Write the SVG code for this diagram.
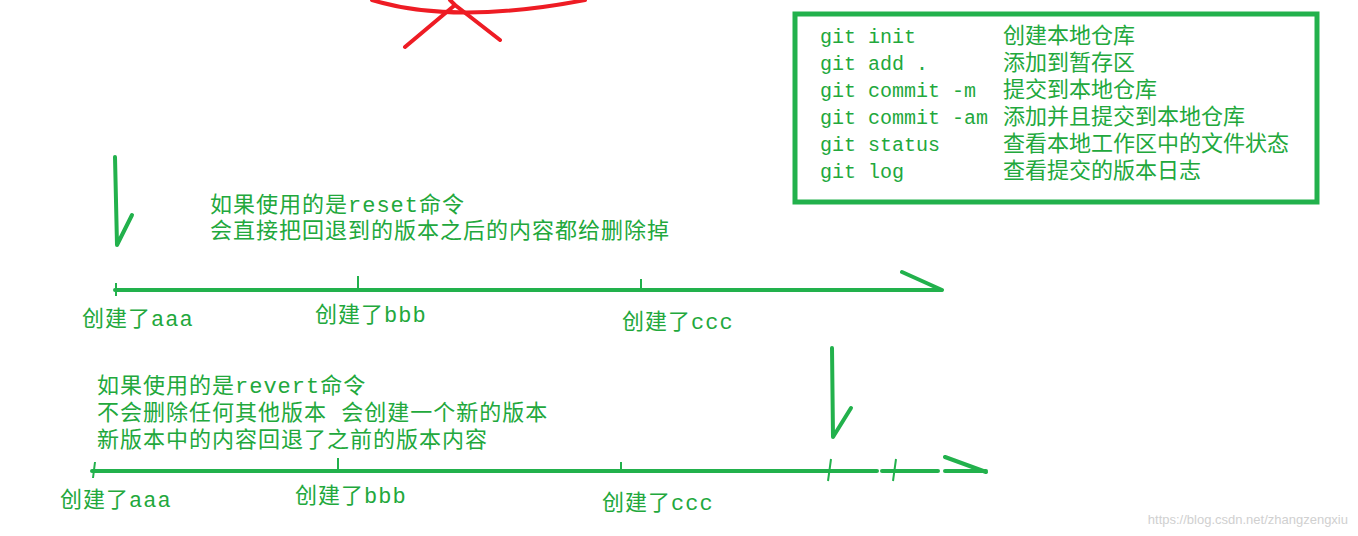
<svg xmlns="http://www.w3.org/2000/svg" width="1358" height="536" viewBox="0 0 1358 536">
<style>
.t{font-family:"Liberation Mono","Noto Sans CJK SC",monospace;font-size:22px;fill:#22a83c;letter-spacing:1px}
.c{font-family:"Liberation Mono","Noto Sans CJK SC",monospace;font-size:22px;fill:#22a83c}
.m{font-family:"Liberation Mono","Noto Sans CJK SC",monospace;font-size:20px;fill:#22a83c}
.g{stroke:#22b14c;stroke-width:4;fill:none;stroke-linecap:round;stroke-linejoin:round}
.k{stroke:#22b14c;stroke-width:2;fill:none}
.r{stroke:#ee1c24;stroke-width:4;fill:none;stroke-linecap:round}
</style>
<rect width="1358" height="536" fill="#fff"/>
<g id="cross">
<path class="r" d="M372 0 Q455 25 585 0"/>
<path class="r" d="M405 47 L455 5 M455 5 L500 40 M450 0 L455 5"/>
</g>
<g id="legend">
<rect x="795" y="14" width="522" height="188" fill="none" stroke="#22b14c" stroke-width="5"/>
<text class="m" x="820" y="43">git init</text><text class="c" x="1003" y="43">创建本地仓库</text>
<text class="m" x="820" y="70">git add .</text><text class="c" x="1003" y="70">添加到暂存区</text>
<text class="m" x="820" y="97">git commit -m</text><text class="c" x="1003" y="97">提交到本地仓库</text>
<text class="m" x="820" y="124">git commit -am</text><text class="c" x="1003" y="124">添加并且提交到本地仓库</text>
<text class="m" x="820" y="151">git status</text><text class="c" x="1003" y="151">查看本地工作区中的文件状态</text>
<text class="m" x="820" y="178">git log</text><text class="c" x="1003" y="178">查看提交的版本日志</text>
</g>
<g id="connectors">
<path class="g" d="M115 157 L117 245 L132 215"/>
<path class="g" d="M115 290 L942 290 M902 272 L942 290"/>
<path class="k" d="M116 283 L116 296 M358 276 L358 290 M641 279 L641 290"/>
<path class="g" d="M832 348 L833 437 L851 408"/>
<path class="g" d="M92 471 L877 471 M882 471 L938 471 M945 471 L986 471 M945 457 L986 472"/>
<path class="k" d="M95 462 L93 478 M338 458 L338 471 M621 462 L621 471 M831 459 L828 481 M896 459 L893 481"/>
</g>
<g id="labels">
<text class="t" x="210" y="212">如果使用的是reset命令</text>
<text class="t" x="210" y="238">会直接把回退到的版本之后的内容都给删除掉</text>
<text class="t" x="82" y="326">创建了aaa</text>
<text class="t" x="315" y="322">创建了bbb</text>
<text class="t" x="622" y="329">创建了ccc</text>
<text class="t" x="97" y="393">如果使用的是revert命令</text>
<text class="t" x="97" y="420">不会删除任何其他版本 会创建一个新的版本</text>
<text class="t" x="97" y="447">新版本中的内容回退了之前的版本内容</text>
<text class="t" x="60" y="507">创建了aaa</text>
<text class="t" x="295" y="503">创建了bbb</text>
<text class="t" x="602" y="510">创建了ccc</text>
<text x="1348" y="524" text-anchor="end" font-family="Liberation Sans,sans-serif" font-size="13" fill="#d0d0d0">https://blog.csdn.net/zhangzengxiu</text>
</g>
</svg>
